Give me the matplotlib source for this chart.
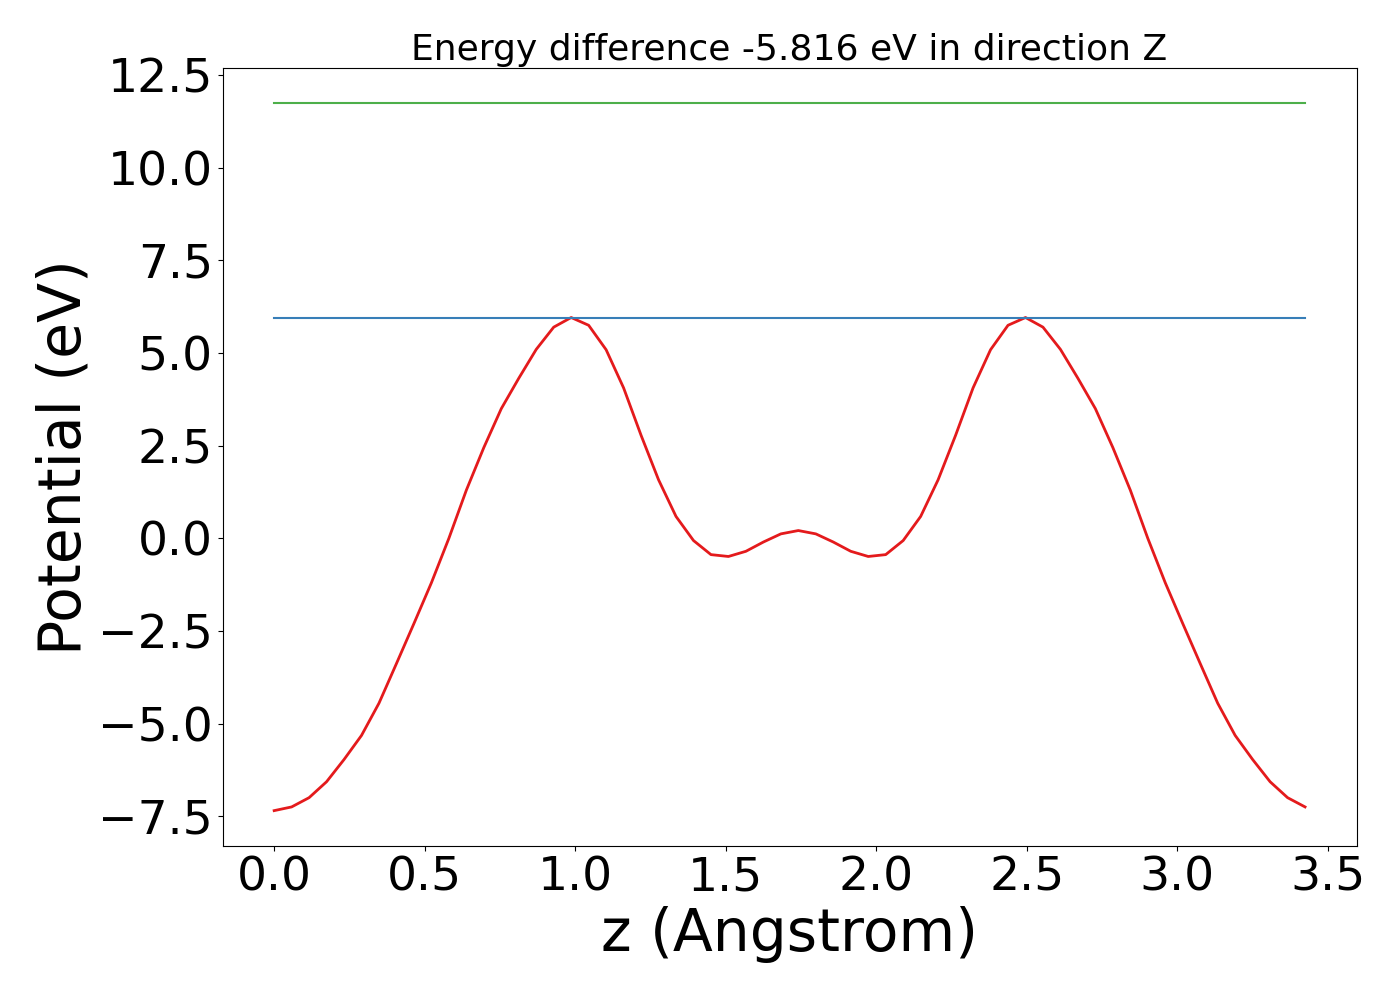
import numpy as np
import matplotlib
matplotlib.use("Agg")
import matplotlib.pyplot as plt
from matplotlib.ticker import MultipleLocator

# grid along z (Angstrom)
z_start = 0.0
z_end = 3.424
n_points = 60

potential = [
    -7.35, -7.25, -7.00, -6.57, -5.97, -5.32, -4.45, -3.38, -2.30, -1.20,
     0.00,  1.30,  2.45,  3.50,  4.32,  5.10,  5.70,  5.96,  5.75,  5.09,
     4.06,  2.78,  1.58,  0.59, -0.06, -0.44, -0.49, -0.35, -0.10,  0.12,
     0.21,  0.12, -0.10, -0.35, -0.49, -0.44, -0.06,  0.59,  1.58,  2.78,
     4.06,  5.09,  5.75,  5.96,  5.70,  5.10,  4.32,  3.50,  2.45,  1.30,
     0.00, -1.20, -2.30, -3.38, -4.45, -5.32, -5.97, -6.57, -7.00, -7.25,
]
level_blue = 5.96
level_green = 11.74
title_text = "Energy difference -5.816 eV in direction Z"

z = np.linspace(z_start, z_end, n_points)

fig = plt.figure(figsize=(14, 10), dpi=100)
ax = fig.add_axes([0.159, 0.154, 0.81, 0.778])
ax.plot(z, potential, color="#e41a1c", lw=2)
ax.plot(z, [level_blue] * len(z), color="#377eb8", lw=1.5)
ax.plot(z, [level_green] * len(z), color="#4daf4a", lw=1.5)

ax.yaxis.set_major_locator(MultipleLocator(2.5))
ax.set_title(title_text, fontsize=26)
ax.set_xlabel("z (Angstrom)", fontsize=42)
ax.set_ylabel("Potential (eV)", fontsize=42)
ax.tick_params(labelsize=34)

fig.savefig("out.png", dpi=100)
